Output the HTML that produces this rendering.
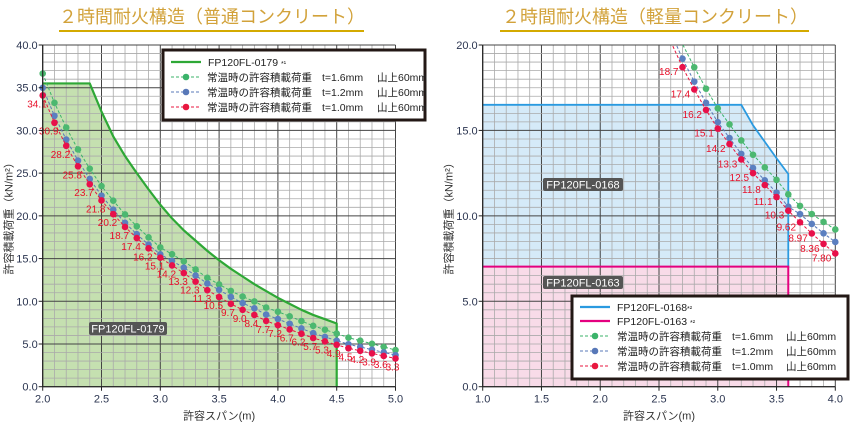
<!DOCTYPE html>
<html><head><meta charset="utf-8"><style>
body{margin:0;background:#fff;}
svg{display:block;font-family:"Liberation Sans","Noto Sans CJK JP",sans-serif;}
</style></head><body>
<svg id="s" width="850" height="430" xmlns="http://www.w3.org/2000/svg"></svg>
<script>
const S=document.getElementById('s');let h='';
function ln(x1,y1,x2,y2,c,w,d){h+=`<line x1="${x1}" y1="${y1}" x2="${x2}" y2="${y2}" stroke="${c}" stroke-width="${w}"${d?` stroke-dasharray="${d}"`:''}/>`;}
function tx(x,y,t,o){o=o||{};h+=`<text x="${x}" y="${y}" font-size="${o.s||11}" fill="${o.c||'#222'}" text-anchor="${o.a||'start'}"${o.tr?` transform="${o.tr}"`:''}>${t}</text>`;}
function interp(pts,x){for(let i=0;i<pts.length-1;i++){if(x<=pts[i+1][0]){const[a,b]=pts[i],[c,d]=pts[i+1];return b+(d-b)*(x-a)/(c-a);}}return pts[pts.length-1][1];}
const GOLD='#d2a23a';
tx(212,23,'２時間耐火構造（普通コンクリート）',{s:18,c:GOLD,a:'middle'});
tx(655,23,'２時間耐火構造（軽量コンクリート）',{s:18,c:GOLD,a:'middle'});
ln(59,31,364,31,'#d4aa00',2);ln(500,31,809,31,'#d4aa00',2);

function chart(o){
 const X=v=>o.x0+(v-o.xmin)/(o.xmax-o.xmin)*(o.x1-o.x0);
 const Y=v=>o.y1-(v-o.ymin)/(o.ymax-o.ymin)*(o.y1-o.y0);
 o.fills(X,Y);
 for(let v=o.xmin;v<=o.xmax+1e-9;v+=o.xm){const maj=Math.abs(v/o.xM-Math.round(v/o.xM))<1e-6;ln(X(v),o.y0,X(v),o.y1,maj?'#444':'#aaa',maj?1:0.8);}
 for(let v=o.ymin;v<=o.ymax+1e-9;v+=o.ym){const maj=Math.abs(v/o.yM-Math.round(v/o.yM))<1e-6;ln(o.x0,Y(v),o.x1,Y(v),maj?'#444':'#aaa',maj?1:0.8);}
 o.lines(X,Y);
 ln(o.x0,o.y0,o.x0,o.y1,'#222',1.2);ln(o.x0,o.y1,o.x1,o.y1,'#222',1.2);
 for(let v=o.ymin;v<=o.ymax+1e-9;v+=o.yM){ln(o.x0-4,Y(v),o.x0,Y(v),'#222',1);tx(o.x0-5,Y(v)+4,v.toFixed(1),{a:'end',c:'#2b3550'});}
 for(let v=o.xmin;v<=o.xmax+1e-9;v+=o.xM){ln(X(v),o.y1,X(v),o.y1+4,'#222',1);tx(X(v),o.y1+16,v.toFixed(1),{a:'middle',c:'#2b3550'});}
 tx((o.x0+o.x1)/2,o.y1+33,'許容スパン(m)',{a:'middle',c:'#333'});
 tx(o.x0-30,(o.y0+o.y1)/2,'許容積載荷重（kN/m²）',{a:'middle',c:'#333',tr:`rotate(-90 ${o.x0-30} ${(o.y0+o.y1)/2})`});
}
function series(X,Y,xs,vals,col,pcol,clipTop){
 let p=[];xs.forEach((x,i)=>p.push([X(x),Y(vals[i])]));
 h+=`<polyline points="${p.map(a=>a.join(',')).join(' ')}" fill="none" stroke="${col}" stroke-width="1" stroke-dasharray="3,2"/>`;
 p.forEach(a=>{if(a[1]>=clipTop)h+=`<circle cx="${a[0]}" cy="${a[1]}" r="3.3" fill="${pcol}"/>`;});
}
function tag(x,y,w,t){h+=`<rect x="${x}" y="${y}" width="${w}" height="13" rx="2" fill="#555"/>`;tx(x+w/2,y+10.5,t,{a:'middle',c:'#fff',s:11});}

const redL=[34.1,30.9,28.2,25.8,23.7,21.8,20.2,18.7,17.4,16.2,15.1,14.2,13.3,12.3,11.3,10.5,9.7,9.0,8.4,7.7,7.2,6.7,6.2,5.7,5.3,4.9,4.5,4.2,3.9,3.6,3.3];
const xsL=redL.map((_,i)=>+(2+i*0.1).toFixed(1));
const rgL=[[2,1.075],[3,1.08],[3.5,1.14],[4,1.22],[4.5,1.27],[5,1.3]];
const rbL=[[2,1.026],[3,1.026],[3.5,1.08],[4,1.1],[4.5,1.1],[5,1.12]];
chart({x0:42.7,x1:395.5,y0:45,y1:386.7,xmin:2,xmax:5,ymin:0,ymax:40,xm:0.1,xM:0.5,ym:1,yM:5,
 fills(X,Y){const c=[[2,35.5],[2.4,35.5],[2.5,32.2],[2.6,29.3],[2.7,27],[2.8,25],[2.9,23.1],[3.0,21.3],[3.1,19.7],[3.2,18.3],[3.3,17.1],[3.4,15.9],[3.5,14.8],[3.6,13.8],[3.7,12.9],[3.8,12.0],[3.9,11.2],[4.0,10.4],[4.1,9.7],[4.2,9.0],[4.3,8.4],[4.4,7.9],[4.5,7.4]];
  h+=`<polygon points="${X(2)},${Y(0)} ${c.map(a=>X(a[0])+','+Y(a[1])).join(' ')} ${X(4.5)},${Y(0)}" fill="#c5e0b0"/>`;this.c=c;},
 lines(X,Y){h+=`<polyline points="${this.c.map(a=>X(a[0])+','+Y(a[1])).join(' ')} ${X(4.5)},${Y(0)}" fill="none" stroke="#2ea836" stroke-width="2.2" stroke-linejoin="round"/>`;
  series(X,Y,xsL,redL.map((v,i)=>v*interp(rgL,xsL[i])),'#3bb36a','#4cb870',0);
  series(X,Y,xsL,redL.map((v,i)=>v*interp(rbL,xsL[i])),'#5878b8','#5b7fc0',0);
  series(X,Y,xsL,redL,'#e8173f','#e8104a',0);
  xsL.forEach((x,i)=>{tx(X(x)+4,Y(redL[i])+12,redL[i].toFixed(1),{a:'end',c:'#e8102a',s:10});});
  tag(89,322,78,'FP120FL-0179');}
});
h+=`<rect x="163" y="50" width="262" height="70" fill="#fff" stroke="#231815" stroke-width="3"/>`;
ln(171,62,201,62,'#2ea836',2.2);tx(208,66,'FP120FL-0179 <tspan font-size="7">*¹</tspan>',{s:10.5});
[['#3bb36a',77,'1.6'],['#5878b8',92,'1.2'],['#e8173f',107,'1.0']].forEach(r=>{ln(171,r[1],201,r[1],r[0],1,'3,2');h+=`<circle cx="186" cy="${r[1]}" r="3.3" fill="${r[0]}"/>`;tx(207,r[1]+4,'常温時の許容積載荷重',{s:10.5});tx(322,r[1]+4,'t='+r[2]+'mm',{s:10.5});tx(377,r[1]+4,'山上60mm',{s:10.5});});

const redR=[18.7,17.4,16.2,15.1,14.2,13.3,12.5,11.8,11.1,10.3,9.62,8.97,8.36,7.80];
const xsR=redR.map((_,i)=>+(2.7+i*0.1).toFixed(1));
const rgR=[[2.6,1.07],[3.6,1.093],[3.7,1.10],[4.0,1.18]];
const rbR=[[2.6,1.027],[3.6,1.023],[3.7,1.05],[4.0,1.086]];
chart({x0:482.7,x1:835.3,y0:45,y1:386.7,xmin:1,xmax:4,ymin:0,ymax:20,xm:0.1,xM:0.5,ym:0.5,yM:5,
 fills(X,Y){this.b=[[1,16.5],[3.2,16.5],[3.3,15.3],[3.5,13.37],[3.6,12.45]];
  h+=`<polygon points="${X(1)},${Y(0)} ${this.b.map(a=>X(a[0])+','+Y(a[1])).join(' ')} ${X(3.6)},${Y(0)}" fill="#d5eaf8"/>`;
  h+=`<rect x="${X(1)}" y="${Y(7.03)}" width="${X(3.6)-X(1)}" height="${Y(0)-Y(7.03)}" fill="#f8dbe8"/>`;},
 lines(X,Y){h+=`<polyline points="${this.b.map(a=>X(a[0])+','+Y(a[1])).join(' ')} ${X(3.6)},${Y(7.03)}" fill="none" stroke="#2a9ae0" stroke-width="1.8"/>`;
  h+=`<polyline points="${X(1)},${Y(7.03)} ${X(3.6)},${Y(7.03)} ${X(3.6)},${Y(0)}" fill="none" stroke="#e4007f" stroke-width="2"/>`;
  h+=`<clipPath id="cr"><rect x="482" y="45" width="360" height="345"/></clipPath><g clip-path="url(#cr)">`;
  const xe=[2.6].concat(xsR);const re=[20.2].concat(redR);
  series(X,Y,xe,re.map((v,i)=>v*interp(rgR,xe[i])),'#3bb36a','#4cb870',46);
  series(X,Y,xe,re.map((v,i)=>v*interp(rbR,xe[i])),'#5878b8','#5b7fc0',46);
  series(X,Y,xe,re,'#e8173f','#e8104a',46);
  h+='</g>';
  xsR.forEach((x,i)=>tx(X(x)-4,Y(redR[i])+8,redR[i].toFixed(redR[i]<10?2:1),{a:'end',c:'#e8102a',s:10}));
  tag(543,178,80,'FP120FL-0168');tag(543,276,80,'FP120FL-0163');}
});
h+=`<rect x="572" y="296" width="276" height="83" fill="#fff" stroke="#231815" stroke-width="3"/>`;
ln(580,307,610,307,'#2a9ae0',2.2);tx(617,311,'FP120FL-0168<tspan font-size="7">*²</tspan>',{s:10.5});
ln(580,321,610,321,'#e4007f',2.2);tx(617,325,'FP120FL-0163 <tspan font-size="7">*²</tspan>',{s:10.5});
[['#3bb36a',336,'1.6'],['#5878b8',351,'1.2'],['#e8173f',366,'1.0']].forEach(r=>{ln(580,r[1],610,r[1],r[0],1,'3,2');h+=`<circle cx="595" cy="${r[1]}" r="3.3" fill="${r[0]}"/>`;tx(617,r[1]+4,'常温時の許容積載荷重',{s:10.5});tx(732,r[1]+4,'t='+r[2]+'mm',{s:10.5});tx(786,r[1]+4,'山上60mm',{s:10.5});});
S.innerHTML=h;
</script>
</body></html>
